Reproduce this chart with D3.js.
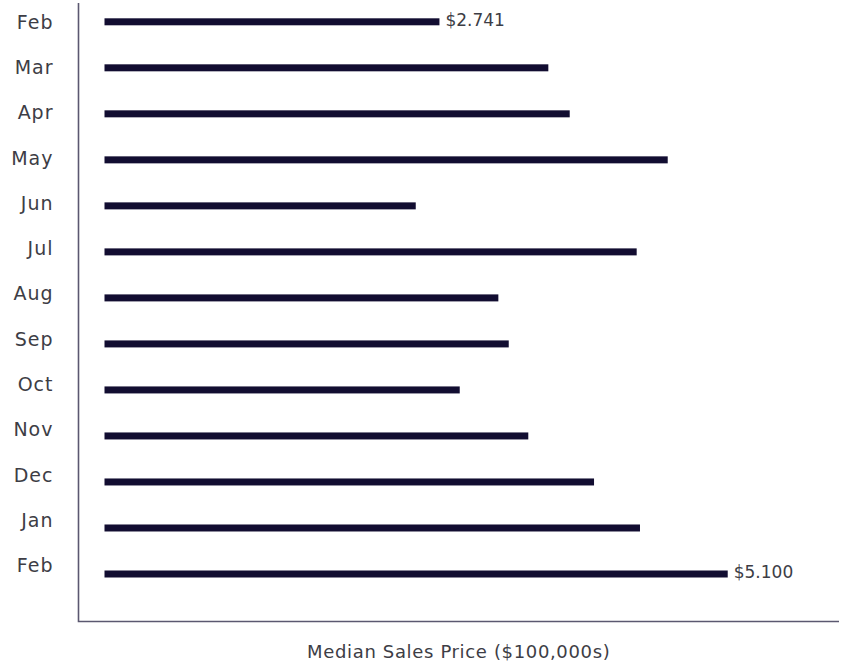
<!DOCTYPE html>
<html>
<head>
<meta charset="utf-8">
<script src="https://cdn.jsdelivr.net/npm/d3@7"></script>
<style>
  html, body { margin: 0; padding: 0; background: #ffffff; }
  svg { display: block; }
  text { font-family: "DejaVu Sans", sans-serif; fill: #3d3d45; }
</style>
</head>
<body>
<script>
// ---- data ----
const months = ["Feb","Mar","Apr","May","Jun","Jul","Aug","Sep","Oct","Nov","Dec","Jan","Feb"];
const prices = [2.741, 3.632, 3.807, 4.609, 2.547, 4.355, 3.223, 3.308, 2.907, 3.468, 4.006, 4.382, 5.100];
const shownLabels = ["$2.741", null, null, null, null, null, null, null, null, null, null, null, "$5.100"];
const xTitle = "Median Sales Price ($100,000s)";
const xDomain = [0, 6];

// ---- layout ----
const W = 845, H = 667;
const axisX = 78.5, axisBottom = 621.5, axisTop = 3, axisRight = 839;

const svg = d3.select("body").append("svg").attr("width", W).attr("height", H);

const idx = months.map((d, i) => i);
const x = d3.scaleLinear().domain(xDomain).range([104.5, 104.5 + 6 * 122.2]);
const yBar = d3.scalePoint().domain(idx).range([21.8, 574]);
const yLab = d3.scalePoint().domain(idx).range([22, 565.5]);

// axis lines
svg.append("path")
  .attr("d", `M${axisX},${axisTop}V${axisBottom}H${axisRight}`)
  .attr("fill", "none").attr("stroke", "#5b5870").attr("stroke-width", 1.6);

// bars
const barH = 7;
svg.append("g").selectAll("rect").data(idx).join("rect")
  .attr("x", x(0))
  .attr("y", i => yBar(i) - barH / 2)
  .attr("width", i => x(prices[i]) - x(0))
  .attr("height", barH)
  .attr("fill", "#120d31");

// category labels
svg.append("g").selectAll("text").data(idx).join("text")
  .attr("x", 53.5)
  .attr("y", i => yLab(i))
  .attr("dy", "0.35em")
  .attr("text-anchor", "end")
  .style("font-size", "19px")
  .style("letter-spacing", "1px")
  .text(i => months[i]);

// value labels
svg.append("g").selectAll("text").data(idx.filter(i => shownLabels[i])).join("text")
  .attr("x", i => x(prices[i]) + 6)
  .attr("y", i => yBar(i) - 1.5)
  .attr("dy", "0.35em")
  .style("font-size", "17px")
  .text(i => shownLabels[i]);

// x title
svg.append("text")
  .attr("x", (axisX + axisRight) / 2)
  .attr("y", 652)
  .attr("dy", "0.35em")
  .attr("text-anchor", "middle")
  .style("font-size", "18px")
  .style("letter-spacing", "0.65px")
  .text(xTitle);
</script>
</body>
</html>
